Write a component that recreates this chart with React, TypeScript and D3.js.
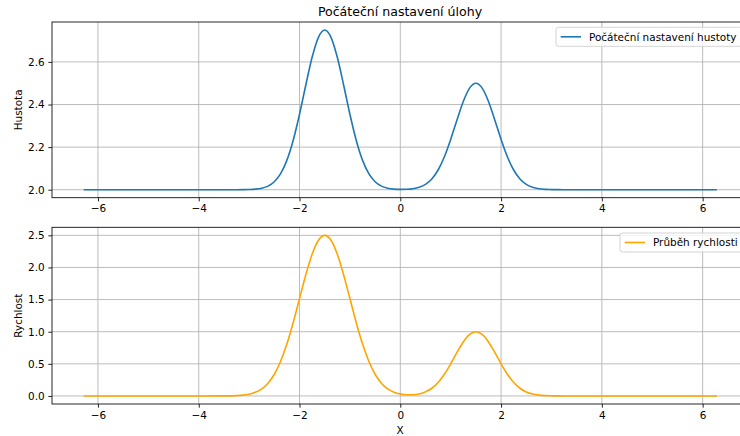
import React, { useEffect, useRef } from 'react';
import * as d3 from 'd3';

// x souřadnice
const xs = [-6.283, -5, -4,
  -3.5, -3.375, -3.25, -3.125, -3, -2.875, -2.75, -2.625, -2.5, -2.375,
  -2.25, -2.125, -2, -1.875, -1.75, -1.625, -1.5, -1.375, -1.25, -1.125,
  -1, -0.875, -0.75, -0.625, -0.5, -0.375, -0.25, -0.125, 0, 0.125,
  0.25, 0.375, 0.5, 0.625, 0.75, 0.875, 1, 1.125, 1.25, 1.375,
  1.5, 1.625, 1.75, 1.875, 2, 2.125, 2.25, 2.375, 2.5, 2.625,
  2.75, 2.875, 3, 3.125, 3.25, 3.375, 3.5,
  4, 5, 6.283];
const hustota = [2.0, 2.0, 2.0,
  2.0, 2.0, 2.0, 2.0003, 2.0009, 2.0026, 2.0069, 2.0168, 2.0374, 2.0755,
  2.1388, 2.2324, 2.3543, 2.4919, 2.6218, 2.7157, 2.75, 2.7157, 2.6218, 2.4919,
  2.3543, 2.2324, 2.1388, 2.0755, 2.0374, 2.0168, 2.007, 2.0028, 2.0015, 2.002,
  2.0047, 2.0112, 2.0249, 2.0503, 2.0925, 2.1549, 2.2362, 2.3279, 2.4145, 2.4771,
  2.5, 2.4771, 2.4145, 2.3279, 2.2362, 2.1549, 2.0925, 2.0503, 2.0249, 2.0112,
  2.0046, 2.0017, 2.0006, 2.0002, 2.0, 2.0, 2.0,
  2.0, 2.0, 2.0];
const rychlost = [0, 0, 0,
  0.001, 0.0022, 0.0055, 0.0127, 0.028, 0.057, 0.11, 0.199, 0.338, 0.541,
  0.812, 1.1445, 1.516, 1.887, 2.206, 2.423, 2.5, 2.423, 2.206, 1.887,
  1.516, 1.1445, 0.812, 0.541, 0.338, 0.199, 0.11, 0.058, 0.03, 0.018,
  0.019, 0.032, 0.064, 0.12, 0.211, 0.339, 0.5, 0.677, 0.841, 0.958,
  1.0, 0.958, 0.841, 0.677, 0.5, 0.339, 0.211, 0.12, 0.063, 0.03,
  0.013, 0.005, 0.002, 0.0007, 0.0002, 0, 0,
  0, 0, 0];

const xTicks = [-6, -4, -2, 0, 2, 4, 6];
const hustotaTicks = [2.0, 2.2, 2.4, 2.6];
const rychlostTicks = [0, 0.5, 1.0, 1.5, 2.0, 2.5];

const W = 740, H = 436;
const FONT = 'DejaVu Sans, sans-serif';
const FS = '10.46px';

export default function App() {
  const ref = useRef<SVGSVGElement | null>(null);

  useEffect(() => {
    const svg = d3.select(ref.current);
    svg.selectAll('*').remove();

    const left = 52, right = 748.6;
    const x = d3.scaleLinear().domain([-6.912, 6.912]).range([left, right]);

    const panels = [
      { top: 22, bottom: 197.7, dom: [1.9625, 2.7875], vals: hustota, ticks: hustotaTicks,
        color: '#1f77b4', label: 'Hustota', legend: 'Počáteční nastavení hustoty', legX: 556, legY: 27.3 },
      { top: 227.3, bottom: 404, dom: [-0.125, 2.625], vals: rychlost, ticks: rychlostTicks,
        color: '#ffa500', label: 'Rychlost', legend: 'Průběh rychlosti', legX: 620, legY: 233 },
    ];

    panels.forEach(p => {
      const y = d3.scaleLinear().domain(p.dom).range([p.bottom, p.top]);
      const g = svg.append('g');

      // mřížka
      g.append('g').selectAll('line').data(xTicks).enter().append('line')
        .attr('x1', d => x(d)).attr('x2', d => x(d))
        .attr('y1', p.top).attr('y2', p.bottom)
        .attr('stroke', '#b0b0b0').attr('stroke-width', 0.85);
      g.append('g').selectAll('line').data(p.ticks).enter().append('line')
        .attr('x1', left).attr('x2', right)
        .attr('y1', d => y(d)).attr('y2', d => y(d))
        .attr('stroke', '#b0b0b0').attr('stroke-width', 0.85);

      // křivka
      const line = d3.line<number>()
        .x((_, i) => x(xs[i]))
        .y(d => y(d))
        .curve(d3.curveMonotoneX);
      g.append('path').datum(p.vals)
        .attr('d', line)
        .attr('fill', 'none')
        .attr('stroke', p.color)
        .attr('stroke-width', 1.6);

      // osy
      const ax = g.append('g').attr('transform', `translate(0,${p.bottom})`)
        .call(d3.axisBottom(x).tickValues(xTicks).tickSizeOuter(0).tickSize(3.7).tickPadding(3.6)
          .tickFormat(d3.format('d') as any));
      const ay = g.append('g').attr('transform', `translate(${left},0)`)
        .call(d3.axisLeft(y).tickValues(p.ticks).tickSizeOuter(0).tickSize(3.7).tickPadding(3.6)
          .tickFormat(d3.format('.1f') as any));
      [ax, ay].forEach(a => {
        a.select('.domain').remove();
        a.selectAll('.tick line').attr('stroke', '#000').attr('stroke-width', 0.85);
        a.selectAll('.tick text').style('font-family', FONT).style('font-size', FS).attr('fill', '#000');
      });

      // rámeček
      g.append('rect')
        .attr('x', left).attr('y', p.top)
        .attr('width', right - left).attr('height', p.bottom - p.top)
        .attr('fill', 'none').attr('stroke', '#000').attr('stroke-width', 0.85);

      // popisek osy y
      g.append('text')
        .attr('transform', `translate(22,${(p.top + p.bottom) / 2}) rotate(-90)`)
        .attr('text-anchor', 'middle')
        .style('font-family', FONT).style('font-size', FS)
        .text(p.label);

      // legenda
      const lg = g.append('g');
      lg.append('rect')
        .attr('x', p.legX).attr('y', p.legY).attr('width', 742 - p.legX).attr('height', 19)
        .attr('rx', 2.5).attr('fill', '#fff').attr('fill-opacity', 0.8)
        .attr('stroke', '#cccccc').attr('stroke-width', 0.85);
      lg.append('line')
        .attr('x1', p.legX + 4.7).attr('x2', p.legX + 25)
        .attr('y1', p.legY + 9.5).attr('y2', p.legY + 9.5)
        .attr('stroke', p.color).attr('stroke-width', 1.6);
      lg.append('text')
        .attr('x', p.legX + 33).attr('y', p.legY + 13.3)
        .style('font-family', FONT).style('font-size', FS)
        .text(p.legend);
    });

    svg.append('text')
      .attr('x', 400).attr('y', 16)
      .attr('text-anchor', 'middle')
      .style('font-family', FONT).style('font-size', '12.55px')
      .text('Počáteční nastavení úlohy');

    svg.append('text')
      .attr('x', 400).attr('y', 434)
      .attr('text-anchor', 'middle')
      .style('font-family', FONT).style('font-size', FS)
      .text('X');
  }, []);

  return (
    <svg ref={ref} width={W} height={H}
      style={{ position: 'absolute', left: 0, top: 0, background: '#fff' }} />
  );
}
